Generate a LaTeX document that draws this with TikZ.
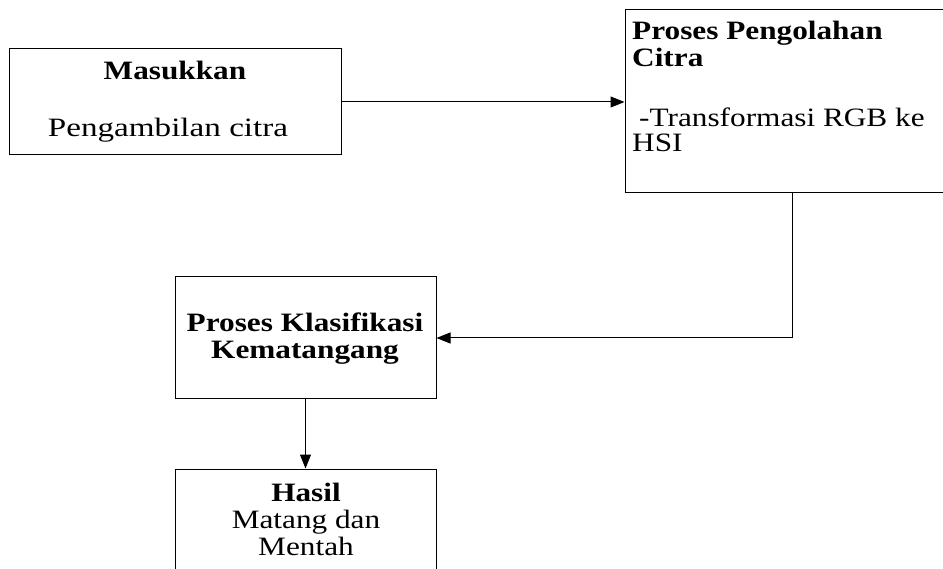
\documentclass[tikz,border=0pt]{standalone}
\usepackage{fontspec}
\setmainfont{Liberation Serif}[FakeStretch=1.18]
\usetikzlibrary{arrows.meta}
\tikzset{
  box/.style={draw=black, line width=1pt, rectangle, inner sep=0pt},
  txt/.style={inner sep=0pt, font=\fontsize{26.5}{27}\selectfont},
  txtb/.style={txt, font=\fontsize{26.5}{27}\selectfont\bfseries},
  conn/.style={draw=black, line width=1pt, -{Triangle[length=14pt,width=11pt]}}
}
\begin{document}
\begin{tikzpicture}[x=1pt,y=-1pt]
\clip (0,0) rectangle (943,569);
\fill[white] (0,0) rectangle (943,569);
% boxes
\node[box, minimum width=332pt, minimum height=106pt] (in) at (175,102) {};
\node[box, minimum width=334pt, minimum height=183pt] (proc) at (792,101.5) {};
\node[box, minimum width=261pt, minimum height=122pt] (cls) at (305.5,338) {};
\node[box, minimum width=261pt, minimum height=122pt] (out) at (305.5,530) {};
% texts
\node[txtb, anchor=base] (t1a) at (175,80) {Masukkan};
\node[txt, anchor=base, xscale=1.06] (t1b) at (168,137) {Pengambilan citra};
\node[txtb, anchor=base west] (t2a) at (632,40) {Proses Pengolahan};
\node[txtb, anchor=base west] (t2b) at (632,67) {Citra};
\node[txt, anchor=base west] (t2c) at (639,127) {-Transformasi RGB ke};
\node[txt, anchor=base west] (t2d) at (632,152) {HSI};
\node[txtb, anchor=base] (t3a) at (305,332) {Proses Klasifikasi};
\node[txtb, anchor=base] (t3b) at (305,359) {Kematangang};
\node[txtb, anchor=base] (t4a) at (306,501) {Hasil};
\node[txt, anchor=base] (t4b) at (306,528) {Matang dan};
\node[txt, anchor=base] (t4c) at (306,555) {Mentah};
% connectors
\draw[conn] (in.east) -- (in.east -| proc.west);
\draw[conn] (proc.south) |- (cls.east);
\draw[conn] (cls.south) -- (out.north);
\end{tikzpicture}
\end{document}
